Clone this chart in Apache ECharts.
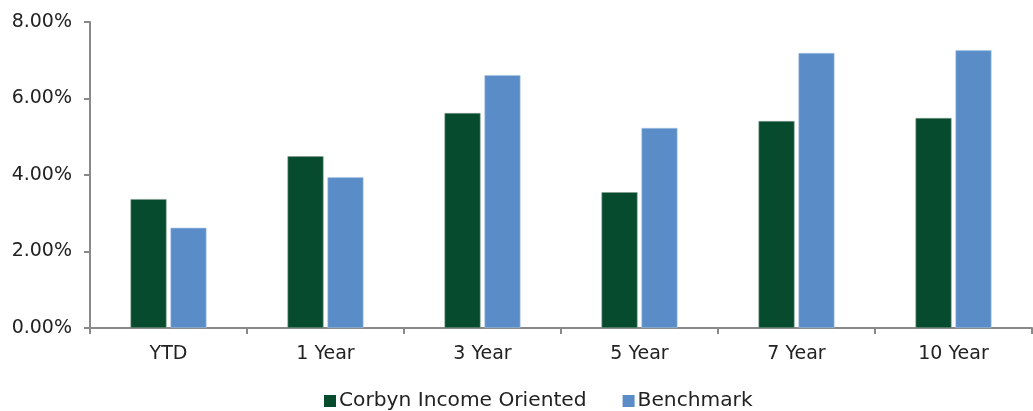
<!DOCTYPE html>
<html><head><meta charset="utf-8">
<script src="https://cdn.jsdelivr.net/npm/echarts@6/dist/echarts.min.js"></script>
<style>html,body{margin:0;padding:0;background:#fff}#c{width:1033px;height:411px}</style>
</head><body><div id="c"></div>
<script>
const categories = ['YTD', '1 Year', '3 Year', '5 Year', '7 Year', '10 Year'];
const corbyn = [3.37, 4.49, 5.62, 3.55, 5.41, 5.49];
const benchmark = [2.62, 3.94, 6.61, 5.23, 7.19, 7.26];
const yTicks = [0, 2, 4, 6, 8];

const FONT = 'DejaVu Sans';
const chart = echarts.init(document.getElementById('c'));
chart.setOption({
  animation: false,
  textStyle: { fontFamily: FONT },
  grid: { left: 90, right: 1, top: 22, bottom: 83, containLabel: false },
  legend: {
    top: 390, left: 324, padding: 0, itemWidth: 12, itemHeight: 12, itemGap: 36,
    icon: 'rect',
    itemStyle: { borderWidth: 0 },
    textStyle: { fontFamily: FONT, fontSize: 20.2, lineHeight: 22, color: '#222', padding: [0, 0, 0, -2] },
    data: ['Corbyn Income Oriented', 'Benchmark']
  },
  xAxis: {
    type: 'category', data: categories,
    axisLine: { lineStyle: { color: '#898989', width: 2 } },
    axisTick: { show: true, alignWithLabel: false, length: 6, lineStyle: { color: '#898989', width: 2 } },
    axisLabel: { fontFamily: FONT, fontSize: 19, color: '#222', margin: 17 }
  },
  yAxis: {
    type: 'value', min: 0, max: 8, interval: 2,
    splitLine: { show: false },
    axisLine: { show: true, lineStyle: { color: '#898989', width: 2 } },
    axisTick: { show: true, length: 6, lineStyle: { color: '#898989', width: 2 } },
    axisLabel: { fontFamily: FONT, fontSize: 19, color: '#222', margin: 18,
      formatter: v => yTicks.includes(v) ? v.toFixed(2) + '%' : '' }
  },
  series: [
    { name: 'Corbyn Income Oriented', type: 'bar', data: corbyn, barWidth: 36, barGap: '11%',
      itemStyle: { color: '#074B2F', borderColor: '#7f9f8f', borderWidth: 0.6 } },
    { name: 'Benchmark', type: 'bar', data: benchmark, barWidth: 36,
      itemStyle: { color: '#5A8DC8', borderColor: '#a9c4e3', borderWidth: 0.6 } }
  ]
});
</script></body></html>
